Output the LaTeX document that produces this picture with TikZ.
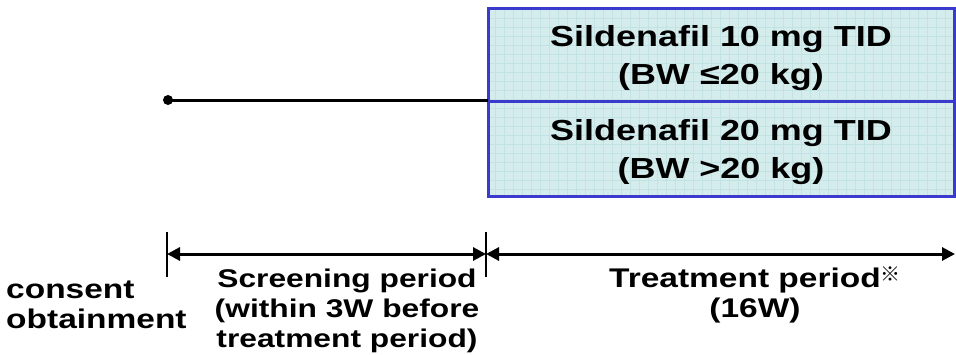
\documentclass[tikz,border=0pt]{standalone}
\usepackage{fontspec}
\setmainfont{Liberation Sans}[FakeStretch=1.24]
\newfontfamily\cjk{Noto Sans CJK JP}
\usepackage{tikz}
\usetikzlibrary{arrows.meta,positioning}

\definecolor{doseblue}{RGB}{58,58,204}
\definecolor{dosefill}{RGB}{212,236,236}
\definecolor{dosegrid}{RGB}{194,226,228}

\tikzset{
  dosebox/.style={draw=doseblue, line width=3pt, outer sep=0pt, anchor=north west, minimum width=466pt, minimum height=93pt, text depth=0pt, align=center, font=\fontsize{29}{38}\selectfont\bfseries},
  period/.style={line width=3pt, {Triangle[length=13pt,width=13pt]}-{Triangle[length=13pt,width=13pt]}},
  tickline/.style={line width=1.2pt},
  periodtext/.style={align=center, inner sep=0pt, font=\fontsize{27}{30}\selectfont\bfseries}
}

\begin{document}
\begin{tikzpicture}[x=1pt,y=-1pt]
\useasboundingbox (0,0) rectangle (956,354);
% dose boxes
\fill[dosefill] (488,8) rectangle (954,196);
\draw[dosegrid, step=9pt] (488,8) grid (954,196);
\node[dosebox] (dose1) at (488,8) {Sildenafil 10 mg TID\\(BW ≤20 kg)};
\node[dosebox, minimum height=95pt] (dose2) at (dose1.south west) {Sildenafil 20 mg TID\\(BW >20 kg)};
\node[circle, fill, inner sep=0pt, minimum size=10pt] (consentdot) at (168,100) {};
\draw[line width=3pt] (consentdot.center) -- (consentdot -| dose1.west);
% time line
\coordinate (t0) at (167,254);
\coordinate (t1) at (486,254);
\coordinate (t2) at (955,254);
\draw[tickline] (t0) ++(0,-22) -- ++(0,45);
\draw[tickline] (t1) ++(0,-22) -- ++(0,45);
\draw[period] (t0) -- (t1);
\draw[period] (t1) -- (t2);
\node[periodtext, anchor=west, align=left] (consent) at (6,305) {consent\\obtainment};
\node[periodtext, font=\fontsize{25.6}{30}\selectfont\bfseries] (screening) at (347,311) {Screening period\\(within 3W before\\treatment period)};
\node[periodtext] (treatment) at (755,295) {Treatment period{\cjk\fontsize{20}{20}\selectfont\raisebox{6pt}{※}}\\(16W)};
\end{tikzpicture}
\end{document}
